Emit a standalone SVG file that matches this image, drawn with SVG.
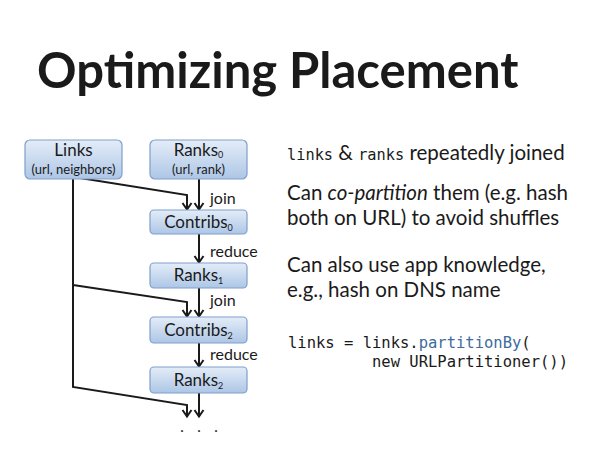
<svg xmlns="http://www.w3.org/2000/svg" width="600" height="450" viewBox="0 0 600 450">
<defs>
<linearGradient id="g" x1="0" y1="0" x2="0" y2="1">
<stop offset="0" stop-color="#e4edf8"/>
<stop offset="1" stop-color="#adc6e6"/>
</linearGradient>
<marker id="ah" markerWidth="12" markerHeight="12" refX="10.5" refY="6" orient="auto" markerUnits="userSpaceOnUse" viewBox="0 0 12 12">
<path d="M3.5,1.5 L10,6 L3.5,10.5" fill="none" stroke="#1a1a1a" stroke-width="2"/>
</marker>
</defs>
<style>
.box{fill:url(#g);stroke:#7f9fcb;stroke-width:1.2}
.nt{font-family:Lato,"Open Sans",sans-serif;font-size:17px;fill:#1a1a1a;text-anchor:middle}
.ns{font-family:Lato,"Open Sans",sans-serif;font-size:13px;fill:#1a1a1a;text-anchor:middle}
.sub{font-size:9px}
.c{fill:none;stroke:#1a1a1a;stroke-width:2}
.lbl{font-family:Lato,"Open Sans",sans-serif;font-size:16px;fill:#1a1a1a}
.body{font-family:Lato,"Open Sans",sans-serif;font-size:20.5px;fill:#1a1a1a}
.mono{font-family:"DejaVu Sans Mono","Liberation Mono",monospace;fill:#1a1a1a}
</style>
<rect width="600" height="450" fill="#ffffff"/>
<text x="37" y="88" font-family="Lato,'Open Sans',sans-serif" font-weight="bold" font-size="49" fill="#1a1a1a">Optimizing Placement</text>

<g id="connectors">
<polyline class="c" points="80,178 187,195 187,210" marker-end="url(#ah)"/>
<line class="c" x1="199" y1="179" x2="199" y2="210" marker-end="url(#ah)"/>
<line class="c" x1="199" y1="234" x2="199" y2="263" marker-end="url(#ah)"/>
<polyline class="c" points="73,178 73,387 187,405 187,417" marker-end="url(#ah)"/>
<polyline class="c" points="73,285 187,302 187,317" marker-end="url(#ah)"/>
<line class="c" x1="199" y1="288" x2="199" y2="317" marker-end="url(#ah)"/>
<line class="c" x1="199" y1="343" x2="199" y2="367" marker-end="url(#ah)"/>
<line class="c" x1="199" y1="393" x2="199" y2="417" marker-end="url(#ah)"/>
<text class="lbl" x="210" y="204">join</text>
<text class="lbl" x="210" y="257">reduce</text>
<text class="lbl" x="210" y="306">join</text>
<text class="lbl" x="210" y="360">reduce</text>
</g>

<g id="links">
<rect class="box" x="25" y="140" width="97" height="39" rx="5"/>
<text class="nt" x="73.5" y="156">Links</text>
<text class="ns" x="73.5" y="174">(url, neighbors)</text>
</g>
<g id="ranks0">
<rect class="box" x="150" y="140" width="97" height="39" rx="5"/>
<text class="nt" x="198.5" y="156">Ranks<tspan class="sub" dy="1.5">0</tspan></text>
<text class="ns" x="198.5" y="174">(url, rank)</text>
</g>
<g id="contribs0">
<rect class="box" x="150" y="210" width="97" height="24" rx="4"/>
<text class="nt" x="198.5" y="228">Contribs<tspan class="sub" dy="2.5">0</tspan></text>
</g>
<g id="ranks1">
<rect class="box" x="150" y="263" width="97" height="25" rx="4"/>
<text class="nt" x="198.5" y="281">Ranks<tspan class="sub" dy="2.5">1</tspan></text>
</g>
<g id="contribs2">
<rect class="box" x="150" y="317" width="97" height="26" rx="4"/>
<text class="nt" x="198.5" y="336">Contribs<tspan class="sub" dy="2.5">2</tspan></text>
</g>
<g id="ranks2">
<rect class="box" x="150" y="367" width="97" height="26" rx="4"/>
<text class="nt" x="198.5" y="386">Ranks<tspan class="sub" dy="2.5">2</tspan></text>
</g>
<g id="dots" font-family="Lato,sans-serif" font-size="15" fill="#1a1a1a" text-anchor="middle">
<text x="182" y="432">.</text>
<text x="199" y="432">.</text>
<text x="216" y="432">.</text>
</g>

<text class="body" x="287" y="160"><tspan class="mono" font-size="15.3">links</tspan> &amp; <tspan class="mono" font-size="15.3">ranks</tspan> repeatedly joined</text>
<text class="body" x="287" y="200">Can <tspan font-style="italic">co-partition</tspan> them (e.g. hash</text>
<text class="body" x="287" y="225">both on URL) to avoid shuffles</text>
<text class="body" x="287" y="272">Can also use app knowledge,</text>
<text class="body" x="287" y="297">e.g., hash on DNS name</text>
<text class="mono" x="288" y="348" font-size="15.5">links = links.<tspan fill="#3d6c9e">partitionBy</tspan>(</text>
<text class="mono" x="372" y="367" font-size="15.5">new URLPartitioner())</text>
</svg>
